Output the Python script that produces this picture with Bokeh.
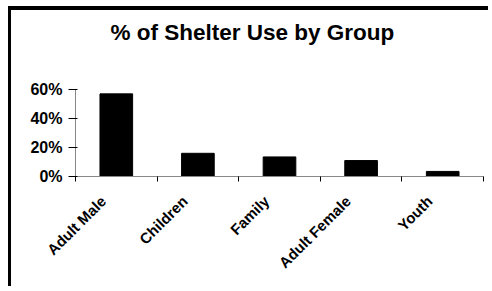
from bokeh.plotting import figure
from bokeh.models import Range1d, FixedTicker, NumeralTickFormatter, Label, GlobalInlineStyleSheet
from bokeh.embed import file_html
from bokeh.resources import INLINE
import math

categories = ["Adult Male", "Children", "Family", "Adult Female", "Youth"]
shares = [0.57, 0.16, 0.135, 0.11, 0.035]
y_ticks = [0, 0.2, 0.4, 0.6]
title_text = "% of Shelter Use by Group"

xs = [i + 0.5 for i in range(len(categories))]
label_shift = 0.16
label_pos = [x - label_shift for x in xs]
boundaries = list(range(len(categories) + 1))

# frame spans the full height above the axis so the title can sit inside it
y_top = 1.145

p = figure(width=480, height=280, output_backend="svg", toolbar_location=None,
           x_range=Range1d(0, len(categories)), y_range=Range1d(0, y_top),
           min_border_left=64, min_border_right=8, min_border_top=0,
           min_border_bottom=114)
p.outline_line_color = None
p.grid.visible = False
p.background_fill_color = "white"
p.border_fill_color = "white"
p.styles = {"position": "absolute", "left": "11px", "top": "10px",
            "box-shadow": "-3px -4px 0 0 black"}
p.stylesheets = [GlobalInlineStyleSheet(css="html, body { overflow: hidden; }")]

p.vbar(x=xs, top=shares, width=0.4, fill_color="black", line_color="black")

title = Label(x=35, y=144, x_units="screen", y_units="screen", text=title_text,
              text_font="Liberation Sans", text_font_size="22.5px",
              text_font_style="bold", text_color="black",
              text_align="left", text_baseline="alphabetic")
p.add_layout(title)

xa = p.xaxis[0]
xa.ticker = FixedTicker(ticks=label_pos, minor_ticks=boundaries)
xa.major_label_overrides = {x: c for x, c in zip(label_pos, categories)}
xa.major_tick_out = 0
xa.major_tick_in = 0
xa.minor_tick_out = 5
xa.minor_tick_in = 0
xa.minor_tick_line_color = "black"
xa.axis_line_color = "#888888"
xa.major_label_orientation = math.pi / 4
xa.major_label_text_font = "Liberation Sans"
xa.major_label_text_font_style = "bold"
xa.major_label_text_font_size = "15px"
xa.major_label_text_color = "black"
xa.major_label_standoff = 17

ya = p.yaxis[0]
ya.ticker = FixedTicker(ticks=y_ticks, minor_ticks=[])
ya.bounds = (0, 0.6)
ya.formatter = NumeralTickFormatter(format="0%")
ya.major_tick_out = 7
ya.major_tick_in = 2
ya.major_tick_line_color = "black"
ya.axis_line_color = "#888888"
ya.major_label_text_font = "Liberation Sans"
ya.major_label_text_font_style = "bold"
ya.major_label_text_font_size = "16px"
ya.major_label_text_color = "black"
ya.major_label_standoff = 6

open("out.html", "w").write(file_html(p, INLINE))
